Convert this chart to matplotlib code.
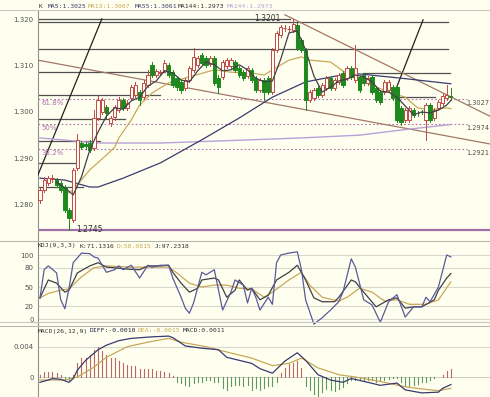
import matplotlib
matplotlib.use("Agg")
import matplotlib.pyplot as plt
from matplotlib.lines import Line2D

# ---------------- data ----------------
opens = [1.2810, 1.2832, 1.2847, 1.2855, 1.2853, 1.2847, 1.2838, 1.2788, 1.2767, 1.2879,
         1.2933, 1.2931, 1.2933, 1.2922, 1.2987, 1.3000, 1.3011, 1.2976, 1.2989, 1.3004,
         1.3026, 1.3009, 1.3030, 1.3037, 1.3043, 1.3032, 1.3058, 1.3102, 1.3080, 1.3084,
         1.3091, 1.3102, 1.3086, 1.3073, 1.3065, 1.3052, 1.3069, 1.3091, 1.3102, 1.3123,
         1.3117, 1.3104, 1.3117, 1.3073, 1.3076, 1.3099, 1.3099, 1.3108, 1.3095, 1.3086,
         1.3078, 1.3091, 1.3073, 1.3048, 1.3069, 1.3073, 1.3043, 1.3134, 1.3166, 1.3181,
         1.3179, 1.3177, 1.3188, 1.3156, 1.3134, 1.3026, 1.3030, 1.3052, 1.3037, 1.3052,
         1.3073, 1.3052, 1.3065, 1.3084, 1.3073, 1.3095, 1.3069, 1.3076, 1.3080, 1.3063,
         1.3076, 1.3052, 1.3043, 1.3043, 1.3048, 1.3054, 1.3054, 1.3009, 1.2983, 1.2983,
         1.3004, 1.2998, 1.3000, 1.2983, 1.3015, 1.2987, 1.3009, 1.3019, 1.3030, 1.3035]
closes = [1.2832, 1.2853, 1.2857, 1.2857, 1.2842, 1.2832, 1.2788, 1.2771, 1.2875, 1.2940,
          1.2924, 1.2927, 1.2918, 1.2987, 1.3026, 1.3026, 1.2998, 1.2987, 1.3011, 1.3026,
          1.3009, 1.3019, 1.3054, 1.3058, 1.3026, 1.3063, 1.3080, 1.3080, 1.3089, 1.3086,
          1.3106, 1.3080, 1.3058, 1.3054, 1.3048, 1.3069, 1.3095, 1.3119, 1.3117, 1.3106,
          1.3102, 1.3117, 1.3063, 1.3054, 1.3108, 1.3112, 1.3112, 1.3091, 1.3080, 1.3073,
          1.3095, 1.3069, 1.3048, 1.3069, 1.3043, 1.3043, 1.3134, 1.3171, 1.3184, 1.3182,
          1.3180, 1.3190, 1.3138, 1.3134, 1.3026, 1.3043, 1.3048, 1.3037, 1.3058, 1.3073,
          1.3052, 1.3069, 1.3080, 1.3058, 1.3095, 1.3076, 1.3095, 1.3048, 1.3063, 1.3073,
          1.3043, 1.3026, 1.3022, 1.3065, 1.3065, 1.3030, 1.2983, 1.2978, 1.3004, 1.3009,
          1.2994, 1.2997, 1.2999, 1.3015, 1.2983, 1.3004, 1.3022, 1.3035, 1.3037, 1.3032]
highs = [1.2836, 1.2860, 1.2862, 1.2864, 1.2857, 1.2851, 1.2842, 1.2793, 1.2879, 1.2952,
         1.2937, 1.2935, 1.2940, 1.3004, 1.3037, 1.3030, 1.3015, 1.2991, 1.3015, 1.3032,
         1.3030, 1.3026, 1.3058, 1.3065, 1.3048, 1.3069, 1.3091, 1.3108, 1.3093, 1.3091,
         1.3112, 1.3106, 1.3091, 1.3078, 1.3069, 1.3073, 1.3099, 1.3138, 1.3121, 1.3127,
         1.3121, 1.3121, 1.3121, 1.3080, 1.3112, 1.3117, 1.3117, 1.3112, 1.3099, 1.3091,
         1.3099, 1.3095, 1.3078, 1.3073, 1.3073, 1.3078, 1.3138, 1.3175, 1.3188, 1.3188,
         1.3186, 1.3201, 1.3192, 1.3160, 1.3138, 1.3048, 1.3052, 1.3056, 1.3063, 1.3078,
         1.3078, 1.3073, 1.3084, 1.3089, 1.3099, 1.3099, 1.3145, 1.3080, 1.3084, 1.3078,
         1.3080, 1.3056, 1.3048, 1.3069, 1.3069, 1.3058, 1.3058, 1.3013, 1.3009, 1.3013,
         1.3009, 1.3002, 1.3004, 1.3019, 1.3019, 1.3009, 1.3026, 1.3039, 1.3058, 1.3052]
lows = [1.2803, 1.2827, 1.2842, 1.2849, 1.2838, 1.2827, 1.2784, 1.2745, 1.2762, 1.2875,
        1.2920, 1.2920, 1.2914, 1.2918, 1.2983, 1.2996, 1.2987, 1.2970, 1.2983, 1.3000,
        1.3004, 1.3004, 1.3026, 1.3032, 1.3015, 1.3028, 1.3054, 1.3076, 1.3076, 1.3080,
        1.3086, 1.3076, 1.3054, 1.3048, 1.3041, 1.3048, 1.3065, 1.3086, 1.3097, 1.3102,
        1.3097, 1.3099, 1.3058, 1.3041, 1.3071, 1.3095, 1.3095, 1.3086, 1.3076, 1.3069,
        1.3073, 1.3065, 1.3043, 1.3043, 1.3026, 1.3039, 1.3039, 1.3130, 1.3162, 1.3175,
        1.3173, 1.3173, 1.3134, 1.3130, 1.3004, 1.3022, 1.3026, 1.3032, 1.3032, 1.3048,
        1.3048, 1.3048, 1.3060, 1.3054, 1.3069, 1.3071, 1.3065, 1.3043, 1.3058, 1.3058,
        1.3039, 1.3022, 1.3017, 1.3039, 1.3043, 1.3026, 1.2978, 1.2972, 1.2978, 1.2978,
        1.2989, 1.2991, 1.2996, 1.2940, 1.2978, 1.2983, 1.3004, 1.3015, 1.3026, 1.3026]

ma5_idx = [4, 6, 8, 10, 12, 14, 16, 18, 20, 22, 24, 26, 28, 30, 32, 34, 36, 38, 40, 42, 44, 46, 48,
           50, 52, 54, 56, 58, 60, 62, 64, 66, 68, 70, 72, 74, 76, 78, 80, 82, 84, 86, 88, 90, 92,
           94, 96, 98, 99]
ma5_val = [1.2849, 1.2836, 1.2821, 1.2860, 1.2918, 1.2957, 1.2991, 1.3009, 1.3006, 1.3024, 1.3032,
           1.3056, 1.3067, 1.3089, 1.3084, 1.3069, 1.3065, 1.3089, 1.3108, 1.3102, 1.3089, 1.3091,
           1.3102, 1.3091, 1.3073, 1.3065, 1.3067, 1.3114, 1.3171, 1.3175, 1.3134, 1.3078, 1.3043,
           1.3054, 1.3067, 1.3071, 1.3080, 1.3076, 1.3065, 1.3045, 1.3043, 1.3032, 1.3013, 1.2994,
           1.3000, 1.2998, 1.3004, 1.3015, 1.3025]
ma13_idx = [6, 8, 12, 16, 18, 19, 22, 24, 27, 31, 36, 42, 46, 51, 54, 56, 60, 63, 65, 70, 72, 75,
            80, 84, 88, 91, 94, 98, 99]
ma13_val = [1.2821, 1.2832, 1.2875, 1.2907, 1.2924, 1.2944, 1.2983, 1.3015, 1.3041, 1.3063, 1.3076,
            1.3091, 1.3086, 1.3084, 1.3080, 1.3091, 1.3112, 1.3119, 1.3112, 1.3108, 1.3095, 1.3076,
            1.3058, 1.3043, 1.3032, 1.3009, 1.3004, 1.3009, 1.3007]
ma55_idx = [0, 6, 12, 14, 20, 29, 39, 48, 56, 64, 75, 87, 99]
ma55_val = [1.2857, 1.2853, 1.2838, 1.2838, 1.2857, 1.2890, 1.2940, 1.2987, 1.3032, 1.3065,
            1.3084, 1.3073, 1.3061]
ma144_idx = [0, 14, 29, 51, 63, 77, 87, 99]
ma144_val = [1.2944, 1.2933, 1.2933, 1.2940, 1.2944, 1.2950, 1.2961, 1.2973]

fib_levels = [1.3027, 1.2974, 1.2921]
fib_names = ["61.8%", "50%", "38.2%"]
swing_high, swing_high_idx = 1.3201, 61
swing_low, swing_low_idx = 1.2745, 7

# horizontal support/resistance segments: (start idx, end idx, price)
hlines = [(-0.5, 60.2, 1.3201), (-0.5, 60.2, 1.3195), (60.2, 98.3, 1.3194), (-0.5, 98.3, 1.3136),
          (-0.5, 30.1, 1.3086), (77.8, 98.8, 1.3084), (-0.5, 28.9, 1.3037), (85.0, 95.2, 1.3032),
          (-0.5, 20.5, 1.2985), (-0.5, 14.5, 1.2937), (-0.5, 8.4, 1.2890), (-0.5, 10.4, 1.2838)]
# drawn trend lines: (idx0, price0, idx1, price1)
black_lines = [(-0.5, 1.2864, 14.9, 1.3201), (85.0, 1.3032, 92.3, 1.3199)]
brown_lines = [(-0.5, 1.3112, 108.4, 1.2931), (59.0, 1.3210, 108.4, 1.2991)]

kdj_j_idx = [0, 1, 2, 4, 5, 6, 7, 8, 10, 12, 13, 14, 16, 18, 19, 20, 22, 24, 26, 27, 29, 31, 32,
             34, 35, 36, 37, 39, 40, 42, 44, 46, 47, 49, 50, 51, 52, 53, 55, 56, 57, 58, 60, 62,
             63, 64, 66, 68, 70, 72, 73, 75, 76, 78, 80, 82, 84, 86, 88, 90, 92, 93, 94, 96, 98, 99]
kdj_j_val = [33, 77, 83, 72, 30, 16, 48, 88, 103, 102, 97, 95, 73, 77, 83, 77, 84, 64, 84, 81, 84,
             84, 64, 34, 17, 9, 25, 73, 69, 77, 14, 42, 61, 53, 25, 48, 34, 14, 34, 23, 88, 100,
             103, 105, 77, 30, -8, 2, 14, 27, 42, 94, 81, 30, 22, -5, 27, 38, 3, 19, 19, 34, 27,
             50, 100, 97]
kdj_k_idx = [0, 2, 4, 6, 7, 9, 12, 14, 16, 18, 21, 24, 26, 29, 31, 32, 34, 36, 38, 39, 42, 43, 45,
             47, 48, 50, 51, 53, 55, 57, 60, 62, 64, 66, 68, 71, 72, 75, 76, 78, 81, 84, 86, 88,
             90, 92, 95, 96, 98, 99]
kdj_k_val = [33, 61, 56, 42, 45, 72, 83, 88, 81, 80, 78, 77, 83, 83, 84, 73, 56, 42, 48, 61, 64,
             61, 34, 45, 61, 45, 48, 30, 37, 61, 73, 84, 61, 33, 27, 27, 34, 61, 58, 42, 19, 30,
             33, 17, 19, 19, 30, 45, 64, 71]
kdj_d_idx = [0, 2, 5, 7, 10, 13, 16, 22, 31, 33, 36, 39, 42, 45, 48, 51, 54, 56, 60, 63, 65, 68,
             72, 74, 77, 80, 83, 86, 89, 93, 96, 99]
kdj_d_val = [33, 40, 45, 47, 66, 80, 83, 81, 81, 72, 56, 50, 53, 53, 48, 47, 34, 42, 61, 73, 53,
             34, 28, 34, 48, 42, 28, 30, 23, 23, 30, 58]
kdj_ticks = [0, 20, 50, 80, 100]

diff_idx = [0, 2, 3, 5, 7, 8, 9, 11, 14, 16, 19, 22, 27, 31, 32, 35, 39, 43, 45, 48, 51, 53, 56,
            59, 62, 64, 67, 70, 73, 75, 79, 82, 86, 88, 92, 96, 97, 99]
diff_val = [-0.0007, -0.0004, -0.0002, -0.0003, -0.0007, -0.0002, 0.0009, 0.0022, 0.0036, 0.0042,
            0.0048, 0.0051, 0.0053, 0.0054, 0.0052, 0.0041, 0.0038, 0.0036, 0.0026, 0.0022,
            0.0018, 0.0011, 0.0005, 0.0021, 0.0032, 0.0022, 0.0003, -0.0004, -0.0007, -0.0002,
            -0.0007, -0.0011, -0.0008, -0.0017, -0.0021, -0.0020, -0.0015, -0.0010]
dea_idx = [0, 6, 9, 13, 16, 21, 26, 31, 34, 40, 45, 51, 56, 60, 63, 67, 72, 76, 83, 88, 94, 96, 99]
dea_val = [-0.0004, -0.0004, 0.0000, 0.0013, 0.0026, 0.0040, 0.0046, 0.0051, 0.0046, 0.0040,
           0.0033, 0.0025, 0.0015, 0.0018, 0.0025, 0.0012, 0.0003, 0.0000, -0.0007, -0.0013,
           -0.0017, -0.0018, -0.0015]
macd_hist = [0.0003, 0.0006, 0.0007, 0.0007, 0.0005, 0.0002, -0.0003, -0.0004, 0.0003, 0.0018,
             0.0025, 0.0025, 0.0029, 0.0036, 0.0040, 0.0034, 0.0029, 0.0025, 0.0025, 0.0021,
             0.0018, 0.0016, 0.0014, 0.0014, 0.0010, 0.0010, 0.0010, 0.0010, 0.0008, 0.00075,
             0.0006, 0.0005, 0.0001, -0.0006, -0.0008, -0.0010, -0.0012, -0.0008, -0.0006, -0.0006,
             -0.0004, -0.0004, -0.0007, -0.0006, -0.0015, -0.0017, -0.0012, -0.0011, -0.0010, -0.0012,
             -0.0010, -0.0017, -0.0015, -0.0017, -0.0015, -0.0012, -0.0012, -0.0006, 0.0005, 0.0012,
             0.0017, 0.0018, 0.0021, 0.0012, -0.0012, -0.0017, -0.0023, -0.0025, -0.0020, -0.0016,
             -0.0017, -0.0018, -0.0016, -0.0013, -0.0008, -0.0004, -0.00035, -0.0003, -0.00035, -0.0004,
             -0.0004, -0.0006, -0.0004, -0.00035, -0.0003, -0.00015, -0.00015, -0.0006, -0.0012, -0.0013,
             -0.0010, -0.0009, -0.0007, -0.0006, -0.0004, -0.00015, 0.0, 0.0003, 0.00075, 0.0010]
macd_ticks = [0, 0.004]

# ---------------- styling ----------------
W, H = 490, 397
BG = "#FFFFF0"
UP = "#C04848"
DOWN = "#1E8A1E"
TAN = "#C8A858"
NAVY = "#3A3A70"
DARK = "#404048"
LAV = "#B8A0D8"
FIBC = "#B070A8"
GRID = "#D8D8CC"

fig = plt.figure(figsize=(W / 100, H / 100), dpi=100, facecolor=BG)


def px_axes(x0, y0, x1, y1):
    ax = fig.add_axes([x0 / W, 1 - y1 / H, (x1 - x0) / W, (y1 - y0) / H])
    ax.set_facecolor(BG)
    for s in ["top", "right", "bottom"]:
        ax.spines[s].set_visible(False)
    ax.spines["left"].set_color("#909090")
    ax.spines["left"].set_linewidth(0.8)
    ax.set_xticks([])
    ax.tick_params(axis="y", length=0, pad=3, labelsize=5, labelcolor="#505050")
    ax.set_xlim(-0.48, 108.43)
    return ax


def ftext(x, y, s, **kw):
    fig.text(x / W, 1 - y / H, s, va="center", **kw)


n = len(closes)
xs = list(range(n))

# ---------------- main price panel ----------------
ax = px_axes(38, 10, 490, 241)
ax.set_ylim(1.300 - 129 / 4630, 1.300 + 102 / 4630)
ax.set_yticks([1.28, 1.29, 1.30, 1.31, 1.32])
ax.set_yticklabels(["1.280", "1.290", "1.300", "1.310", "1.320"])

for (a, b, p) in hlines:
    ax.plot([a, b], [p, p], color="#505050", lw=0.9, zorder=2)
ax.axhline(swing_low, color="#A070A8", lw=1.6, zorder=2)
for lv in fib_levels:
    ax.plot([-0.5, 103], [lv, lv], color=FIBC, lw=0.8, ls=(0, (1.5, 2)), zorder=2)
for (a, pa, b, pb) in black_lines:
    ax.plot([a, b], [pa, pb], color="#202020", lw=0.9, zorder=3)
for (a, pa, b, pb) in brown_lines:
    ax.plot([a, b], [pa, pb], color="#A07868", lw=0.9, zorder=3)

ax.plot(ma144_idx, ma144_val, color=LAV, lw=1.0, zorder=4)
ax.plot(ma55_idx, ma55_val, color=NAVY, lw=0.9, zorder=4)
ax.plot(ma13_idx, ma13_val, color=TAN, lw=0.9, zorder=4)

for i in xs:
    o, c, h, l = opens[i], closes[i], highs[i], lows[i]
    up = c >= o
    col = UP if up else DOWN
    ax.plot([i, i], [l, h], color=col, lw=0.7, zorder=5)
    lo, hi = min(o, c), max(o, c)
    if hi - lo < 0.00008:
        ax.plot([i - 0.38, i + 0.38], [o, o], color=col, lw=0.9, zorder=6)
    else:
        ax.bar(i, hi - lo, bottom=lo, width=0.78, color=BG if up else DOWN,
               edgecolor=col, linewidth=0.7, zorder=6)

ax.plot(ma5_idx, ma5_val, color=DARK, lw=0.9, zorder=7)

for lv, nm in zip(fib_levels, fib_names):
    ax.text(0.3, lv - 0.0002, nm, color=FIBC, fontsize=5, va="top", ha="left", zorder=8)
    ax.text(102.6, lv - 0.0002, f"{lv:.4f}", color="#505050", fontsize=4.8, va="top", ha="left",
            zorder=8)
ax.text(swing_high_idx - 3, swing_high + 0.0001, f"{swing_high:.4f}", color="#303030", fontsize=5.5,
        ha="right", va="center", zorder=8)
ax.text(swing_low_idx + 1.8, swing_low + 0.0001, f"{swing_low:.4f}", color="#303030", fontsize=5.5,
        ha="left", va="center", zorder=8)

# ---------------- KDJ panel ----------------
kx = px_axes(38, 241, 490, 325)
kx.set_ylim(-9.375, 121.875)
kx.set_yticks(kdj_ticks)
kx.set_yticklabels([str(t) for t in kdj_ticks])
for t in kdj_ticks:
    kx.axhline(t, color=GRID, lw=0.8, zorder=1)
kx.plot(kdj_d_idx, kdj_d_val, color=TAN, lw=0.9, zorder=3)
kx.plot(kdj_k_idx, kdj_k_val, color=DARK, lw=0.9, zorder=4)
kx.plot(kdj_j_idx, kdj_j_val, color="#5A5A9A", lw=0.9, zorder=5)

# ---------------- MACD panel ----------------
mx = px_axes(38, 325, 490, 397)
mx.set_ylim(-0.00264, 0.006865)
mx.set_yticks(macd_ticks)
mx.set_yticklabels(["0", "0.004"])
mx.axhline(0.004, color=GRID, lw=0.8, zorder=1)
mx.axhline(0, color="#C8C8C0", lw=0.6, zorder=1)
for i, v in enumerate(macd_hist):
    mx.plot([i, i], [0, v], color="#B86868" if v >= 0 else "#5E9A5E", lw=0.8, zorder=2)
mx.plot(dea_idx, dea_val, color=TAN, lw=0.9, zorder=3)
mx.plot(diff_idx, diff_val, color=NAVY, lw=0.9, zorder=4)

# ---------------- frame lines ----------------
for yy, c in [(10, "#C8C8C0"), (241, "#B8B8B0"), (321.5, "#C8C8C0"), (325.5, "#B8B8B0")]:
    fig.add_artist(Line2D([0, 1], [1 - yy / H, 1 - yy / H], color=c, lw=0.8))

# ---------------- legends ----------------
mono = dict(family="DejaVu Sans Mono", fontsize=4.6)
ftext(39, 6, "K", color="#303030", **mono)
ftext(48, 6, "MA5:1.3025", color=NAVY, **mono)
ftext(88, 6, "MA13:1.3007", color=TAN, **mono)
ftext(135, 6, "MA55:1.3061", color=NAVY, **mono)
ftext(178, 6, "MA144:1.2973", color="#303030", **mono)
ftext(227, 6, "MA144:1.2973", color=LAV, **mono)

ftext(38, 246, "KDJ(9,3,3)", color="#303030", **mono)
ftext(80, 246, "K:71.1316", color="#303030", **mono)
ftext(117, 246, "D:58.0815", color=TAN, **mono)
ftext(155, 246, "J:97.2318", color="#303030", **mono)

ftext(38, 331, "MACD(26,12,9)", color="#303030", **mono)
ftext(90, 331, "DIFF:-0.0010", color="#202040", **mono)
ftext(138, 331, "DEA:-0.0015", color=TAN, **mono)
ftext(183, 331, "MACD:0.0011", color="#303030", **mono)

fig.savefig("out.png", dpi=100, facecolor=BG)
